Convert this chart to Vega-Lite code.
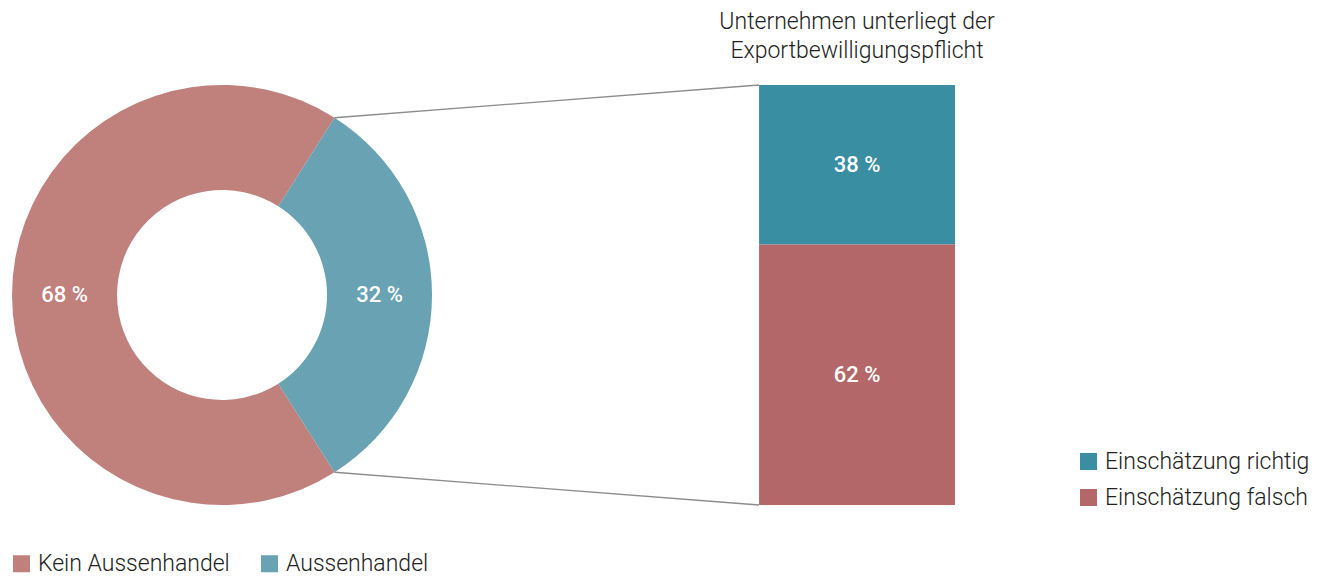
{
  "$schema": "https://vega.github.io/schema/vega-lite/v6.json",
  "width": 943,
  "height": 420,
  "autosize": {"type": "none"},
  "padding": {"left": 12, "top": 85, "right": 366, "bottom": 74},
  "background": "white",
  "config": {"view": {"stroke": null}, "font": "Roboto"},
  "title": {
    "text": ["Unternehmen unterliegt der", "Exportbewilligungspflicht"],
    "font": "Roboto",
    "fontWeight": 300,
    "fontSize": 23,
    "color": "#222222",
    "anchor": "middle",
    "dx": 373.5,
    "offset": 21,
    "lineHeight": 29
  },
  "datasets": {
    "aussenhandel": [
      {"kategorie": "Kein Aussenhandel", "anteil": 68},
      {"kategorie": "Aussenhandel", "anteil": 32}
    ],
    "einschaetzung": [
      {"einschaetzung": "Einschätzung richtig", "anteil": 38},
      {"einschaetzung": "Einschätzung falsch", "anteil": 62}
    ]
  },
  "layer": [
    {
      "data": {"name": "aussenhandel"},
      "mark": {"type": "arc", "radius": 210, "innerRadius": 105},
      "encoding": {
        "x": {"datum": 0, "type": "quantitative", "scale": {"domain": [-1, 3.49], "nice": false, "zero": false}, "axis": null},
        "theta": {"field": "anteil", "type": "quantitative", "stack": true, "scale": {"range": [0.5655, 6.8487]}},
        "order": {"field": "anteil", "sort": "ascending"},
        "color": {
          "field": "kategorie",
          "type": "nominal",
          "scale": {"domain": ["Kein Aussenhandel", "Aussenhandel"], "range": ["#c0807c", "#68a2b3"]},
          "legend": {
            "title": null,
            "orient": "none",
            "legendX": -2,
            "legendY": 467,
            "direction": "horizontal",
            "symbolType": "square",
            "symbolSize": 289,
            "symbolStrokeWidth": 0,
            "symbolOpacity": 1,
            "labelFont": "Roboto",
            "labelFontWeight": 300,
            "labelFontSize": 23,
            "labelColor": "#222222",
            "labelOffset": 5,
            "columnPadding": 28,
            "labelLimit": 400
          }
        }
      }
    },
    {
      "data": {"name": "aussenhandel"},
      "transform": [{"calculate": "datum.anteil + ' %'", "as": "label"}],
      "mark": {"type": "text", "radius": 157.5, "fill": "white", "font": "Roboto", "fontWeight": 500, "fontSize": 22},
      "encoding": {
        "x": {"datum": 0, "type": "quantitative"},
        "theta": {"field": "anteil", "type": "quantitative", "stack": true},
        "order": {"field": "anteil", "sort": "ascending"},
        "text": {"field": "label"}
      }
    },
    {
      "data": {"values": [{}]},
      "mark": {"type": "rule", "color": "#8c8c8c", "strokeWidth": 1.3},
      "encoding": {
        "x": {"datum": 0.5358, "type": "quantitative"},
        "y": {"datum": 92.2, "type": "quantitative", "scale": {"domain": [0, 100], "nice": false}, "axis": null},
        "x2": {"datum": 2.557},
        "y2": {"datum": 100}
      }
    },
    {
      "data": {"values": [{}]},
      "mark": {"type": "rule", "color": "#8c8c8c", "strokeWidth": 1.3},
      "encoding": {
        "x": {"datum": 0.5358, "type": "quantitative"},
        "y": {"datum": 7.8, "type": "quantitative"},
        "x2": {"datum": 2.557},
        "y2": {"datum": 0}
      }
    },
    {
      "data": {"name": "einschaetzung"},
      "transform": [
        {"stack": "anteil", "groupby": [], "sort": [{"field": "anteil", "order": "descending"}], "as": ["y0", "y1"]},
        {"calculate": "(datum.y0 + datum.y1) / 2", "as": "ymid"},
        {"calculate": "datum.anteil + ' %'", "as": "label"}
      ],
      "layer": [
        {
          "mark": {"type": "rect"},
          "encoding": {
            "x": {"datum": 2.557, "type": "quantitative"},
            "x2": {"datum": 3.49},
            "y": {"field": "y0", "type": "quantitative"},
            "y2": {"field": "y1"},
            "color": {
              "field": "einschaetzung",
              "type": "nominal",
              "scale": {"domain": ["Einschätzung richtig", "Einschätzung falsch"], "range": ["#3a8ea2", "#b46768"]},
              "legend": {
                "title": null,
                "orient": "none",
                "legendX": 1065,
                "legendY": 365,
                "direction": "vertical",
                "symbolType": "square",
                "symbolSize": 289,
                "symbolStrokeWidth": 0,
                "symbolOpacity": 1,
                "labelFont": "Roboto",
                "labelFontWeight": 300,
                "labelFontSize": 23,
                "labelColor": "#222222",
                "labelOffset": 5,
                "rowPadding": 12,
                "labelLimit": 400
              }
            }
          }
        },
        {
          "mark": {"type": "text", "fill": "white", "font": "Roboto", "fontWeight": 500, "fontSize": 22},
          "encoding": {
            "x": {"datum": 3.0235, "type": "quantitative"},
            "y": {"field": "ymid", "type": "quantitative"},
            "text": {"field": "label"}
          }
        }
      ]
    }
  ],
  "resolve": {"scale": {"color": "independent"}}
}
